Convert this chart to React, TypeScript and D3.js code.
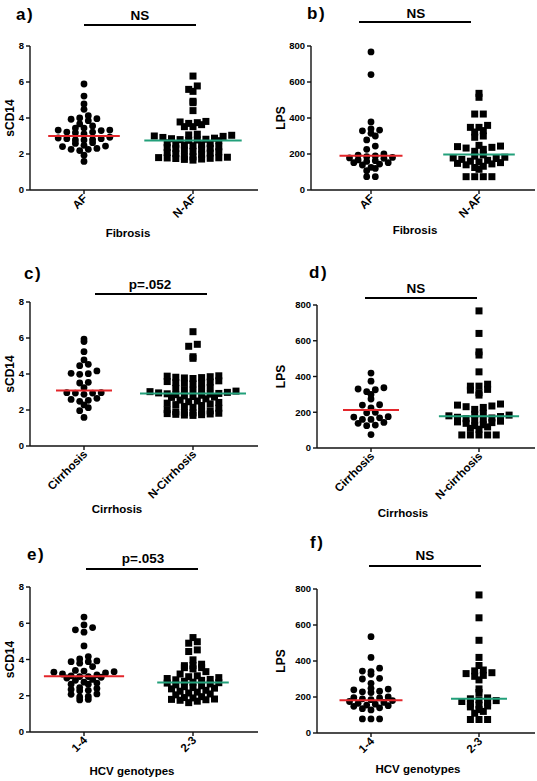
import React from 'react';
import * as d3 from 'd3';

// ---------- categories & ticks ----------
const fibrosisCats = ['AF', 'N-AF'];
const cirrhosisCatsC = ['Cirrhosis', 'N-Cirrhosis'];
const cirrhosisCatsD = ['Cirrhosis', 'N-cirrhosis'];
const genotypeCats = ['1-4', '2-3'];
const sCD14Ticks = [0, 2, 4, 6, 8];
const lpsTicks = [0, 200, 400, 600, 800];

// ---------- data ----------
// a) sCD14 by fibrosis
const aAF = [5.89, 5.22, 4.78, 4.48, 4.13, 4.0, 3.96, 3.93, 3.85, 3.67, 3.56, 3.44, 3.44, 3.33, 3.33, 3.3, 3.22, 3.22, 3.18, 3.11, 2.93, 2.89, 2.85, 2.85, 2.8, 2.78, 2.78, 2.63, 2.59, 2.48, 2.44, 2.41, 2.31, 2.26, 2.26, 2.19, 1.93, 1.59];
const aNAF = [6.33, 5.78, 5.59, 5.48, 4.93, 4.85, 4.41, 3.81, 3.78, 3.74, 3.7, 3.63, 3.52, 3.52, 3.1, 3.06, 3.04, 3.0, 2.98, 2.92, 2.88, 2.85, 2.82, 2.8, 2.78, 2.76, 2.74, 2.62, 2.58, 2.55, 2.52, 2.5, 2.46, 2.4, 2.36, 2.32, 2.3, 2.27, 2.22, 2.15, 2.12, 2.08, 2.05, 2.02, 1.98, 1.86, 1.84, 1.82, 1.8, 1.79, 1.78, 1.76, 1.75, 1.72, 1.7, 1.66];
const aMedians = [3.0, 2.75];

// b) LPS by fibrosis
const bAF = [767, 641, 378, 340, 333, 329, 315, 300, 278, 244, 226, 200, 194, 189, 185, 181, 178, 176, 167, 163, 159, 152, 152, 144, 139, 126, 120, 107, 74, 74];
const bNAF = [537, 515, 422, 422, 359, 348, 348, 330, 322, 300, 293, 248, 244, 241, 237, 233, 226, 215, 195, 188, 182, 178, 175, 170, 165, 160, 156, 152, 148, 145, 140, 132, 125, 115, 74, 74, 74, 74];
const bMedians = [190, 197];

// c) sCD14 by cirrhosis
const cC = [5.94, 5.8, 5.24, 4.78, 4.54, 4.46, 4.17, 4.04, 4.02, 3.98, 3.54, 3.5, 3.24, 2.96, 2.96, 2.94, 2.94, 2.87, 2.65, 2.59, 2.54, 2.48, 2.28, 2.13, 1.96, 1.59];
const cNC = [6.35, 5.65, 5.54, 4.96, 4.87, 3.9, 3.88, 3.85, 3.82, 3.8, 3.78, 3.75, 3.62, 3.58, 3.55, 3.52, 3.5, 3.48, 3.45, 3.24, 3.2, 3.16, 3.12, 3.1, 3.05, 3.02, 2.98, 2.95, 2.92, 2.9, 2.88, 2.85, 2.82, 2.78, 2.75, 2.72, 2.7, 2.62, 2.55, 2.5, 2.46, 2.42, 2.38, 2.34, 2.3, 2.25, 2.2, 2.15, 2.1, 2.02, 1.95, 1.9, 1.88, 1.86, 1.84, 1.82, 1.8, 1.78, 1.76, 1.74, 1.72, 1.7];
const cMedians = [3.08, 2.92];

// d) LPS by cirrhosis
const dC = [419, 374, 337, 330, 326, 315, 300, 274, 242, 240, 225, 200, 197, 175, 173, 169, 160, 160, 143, 138, 128, 125, 75];
const dNC = [767, 641, 538, 520, 426, 357, 346, 346, 328, 324, 309, 296, 246, 240, 235, 231, 227, 216, 195, 188, 184, 180, 176, 172, 168, 164, 160, 155, 150, 146, 142, 138, 130, 125, 118, 110, 105, 73, 73, 73, 73, 73];
const dMedians = [213, 178];

// e) sCD14 by HCV genotype
const e14 = [6.34, 5.91, 5.76, 5.64, 5.51, 4.75, 4.16, 4.03, 3.92, 3.88, 3.88, 3.8, 3.61, 3.4, 3.36, 3.33, 3.3, 3.26, 3.2, 3.15, 3.1, 3.06, 3.06, 3.02, 2.98, 2.9, 2.85, 2.75, 2.7, 2.64, 2.64, 2.45, 2.4, 2.35, 2.3, 2.28, 2.1, 2.08, 1.96, 1.93, 1.8, 1.77];
const e23 = [5.21, 4.98, 4.9, 4.53, 4.44, 3.98, 3.74, 3.66, 3.66, 3.55, 3.55, 3.48, 3.33, 3.2, 3.1, 3.05, 3.0, 2.95, 2.9, 2.88, 2.85, 2.8, 2.75, 2.72, 2.7, 2.65, 2.6, 2.55, 2.5, 2.45, 2.42, 2.38, 2.3, 2.25, 2.2, 2.15, 2.1, 2.05, 1.95, 1.9, 1.88, 1.82, 1.8, 1.78, 1.75, 1.7, 1.62];
const eMedians = [3.07, 2.73];

// f) LPS by HCV genotype
const f14 = [535, 420, 360, 344, 341, 326, 304, 300, 276, 248, 244, 240, 232, 229, 225, 200, 197, 195, 190, 185, 180, 175, 170, 165, 160, 155, 152, 148, 140, 135, 128, 78, 78, 78];
const f23 = [767, 640, 515, 420, 375, 350, 345, 335, 330, 320, 315, 295, 245, 225, 195, 190, 185, 180, 175, 170, 162, 155, 150, 145, 130, 120, 110, 75, 75, 75];
const fMedians = [182, 190];

// ---------- layout ----------
const FONT = '"Liberation Sans", Arial, Helvetica, sans-serif';
const RED = '#e3262b';
const GREEN = '#22a07a';

type Panel = {
  letter: string; lx: number; ly: number;
  sig: string; sigX: number; sigY: number; barX0: number; barX1: number; barY: number;
  axisX: number; yTop: number; yZero: number; xEnd: number; cx0: number; cx1: number;
  ymax: number; ticks: number[]; ytitle: string; ytitleX: number;
  cats: string[]; xtitle: string; xtitleX: number; xtitleY: number;
  g1: number[]; g2: number[]; med: number[];
};

const panels: Panel[] = [
  { letter: 'a)', lx: 16, ly: 20, sig: 'NS', sigX: 140, sigY: 20, barX0: 84, barX1: 196, barY: 25,
    axisX: 30, yTop: 46, yZero: 190, xEnd: 258, cx0: 84, cx1: 193, ymax: 8, ticks: sCD14Ticks, ytitle: 'sCD14', ytitleX: 14,
    cats: fibrosisCats, xtitle: 'Fibrosis', xtitleX: 128, xtitleY: 237, g1: aAF, g2: aNAF, med: aMedians },
  { letter: 'b)', lx: 307, ly: 19, sig: 'NS', sigX: 416, sigY: 18, barX0: 359, barX1: 471, barY: 22,
    axisX: 311, yTop: 46, yZero: 190, xEnd: 535, cx0: 371, cx1: 479, ymax: 800, ticks: lpsTicks, ytitle: 'LPS', ytitleX: 285,
    cats: fibrosisCats, xtitle: 'Fibrosis', xtitleX: 415, xtitleY: 234, g1: bAF, g2: bNAF, med: bMedians },
  { letter: 'c)', lx: 24, ly: 279, sig: 'p=.052', sigX: 150, sigY: 289, barX0: 95, barX1: 207, barY: 294,
    axisX: 30, yTop: 302, yZero: 446, xEnd: 258, cx0: 84, cx1: 193, ymax: 8, ticks: sCD14Ticks, ytitle: 'sCD14', ytitleX: 14,
    cats: cirrhosisCatsC, xtitle: 'Cirrhosis', xtitleX: 117, xtitleY: 513, g1: cC, g2: cNC, med: cMedians },
  { letter: 'd)', lx: 309, ly: 278, sig: 'NS', sigX: 416, sigY: 293, barX0: 365, barX1: 477, barY: 298,
    axisX: 317, yTop: 305, yZero: 448, xEnd: 535, cx0: 371, cx1: 479, ymax: 800, ticks: lpsTicks, ytitle: 'LPS', ytitleX: 285,
    cats: cirrhosisCatsD, xtitle: 'Cirrhosis', xtitleX: 403, xtitleY: 517, g1: dC, g2: dNC, med: dMedians },
  { letter: 'e)', lx: 27, ly: 560, sig: 'p=.053', sigX: 143, sigY: 563, barX0: 86, barX1: 198, barY: 569,
    axisX: 30, yTop: 587, yZero: 732, xEnd: 258, cx0: 84, cx1: 193, ymax: 8, ticks: sCD14Ticks, ytitle: 'sCD14', ytitleX: 14,
    cats: genotypeCats, xtitle: 'HCV genotypes', xtitleX: 132, xtitleY: 775, g1: e14, g2: e23, med: eMedians },
  { letter: 'f)', lx: 310, ly: 548, sig: 'NS', sigX: 425, sigY: 560, barX0: 369, barX1: 481, barY: 566,
    axisX: 317, yTop: 589, yZero: 733, xEnd: 535, cx0: 371, cx1: 479, ymax: 800, ticks: lpsTicks, ytitle: 'LPS', ytitleX: 285,
    cats: genotypeCats, xtitle: 'HCV genotypes', xtitleX: 418, xtitleY: 773, g1: f14, g2: f23, med: fMedians },
];

// GraphPad-like scatter: values binned into rows of height h (px); points in a row are
// laid side by side, centred on the category, spaced sx apart.
function rowSwarm(values: number[], y: (v: number) => number, yZero: number, h: number, sx: number): number[] {
  const bins = d3.group(values.map((v, i) => i), i => Math.floor((yZero - y(values[i])) / h));
  const out = new Array(values.length).fill(0);
  bins.forEach(idx => {
    const sorted = [...idx].sort((a, b) => values[a] - values[b]);
    const n = sorted.length;
    const slots = d3.range(n).map(k => (k - (n - 1) / 2) * sx);
    const orderSlots = [...slots].sort((a, b) => Math.abs(a) - Math.abs(b) || a - b);
    sorted.forEach((i, k) => { out[i] = orderSlots[k]; });
  });
  return out;
}

function PanelView({ p }: { p: Panel }) {
  const y = d3.scaleLinear().domain([0, p.ymax]).range([p.yZero, p.yTop]);
  const x = d3.scalePoint<string>().domain(p.cats).range([p.cx0, p.cx1]);
  const groups = [p.g1, p.g2];
  return (
    <g>
      <text x={p.lx} y={p.ly} fontSize={17} fontWeight="bold" letterSpacing={1.5} fontFamily={FONT}>{p.letter}</text>
      <text x={p.sigX} y={p.sigY} fontSize={13.5} fontWeight="bold" textAnchor="middle" fontFamily={FONT}>{p.sig}</text>
      <line x1={p.barX0} x2={p.barX1} y1={p.barY} y2={p.barY} stroke="#000" strokeWidth={2} />
      {/* y axis */}
      <line x1={p.axisX} x2={p.axisX} y1={p.yTop} y2={p.yZero} stroke="#111" strokeWidth={1.4} />
      {p.ticks.map(t => (
        <g key={t}>
          <line x1={p.axisX - 4} x2={p.axisX} y1={y(t)} y2={y(t)} stroke="#111" strokeWidth={1.4} />
          <text x={p.axisX - 6} y={y(t)} dy="0.35em" fontSize={9.5} fontWeight="bold" textAnchor="end" fontFamily={FONT}>{t}</text>
        </g>
      ))}
      <text transform={`translate(${p.ytitleX},${(p.yTop + p.yZero) / 2}) rotate(-90)`} fontSize={12} fontWeight="bold" textAnchor="middle" fontFamily={FONT}>{p.ytitle}</text>
      {/* x axis */}
      <line x1={p.axisX} x2={p.xEnd} y1={p.yZero} y2={p.yZero} stroke="#111" strokeWidth={1.4} />
      {p.cats.map(c => (
        <g key={c}>
          <line x1={x(c)} x2={x(c)} y1={p.yZero} y2={p.yZero + 4} stroke="#111" strokeWidth={1.4} />
          <text transform={`translate(${(x(c) as number) + 4},${p.yZero + 9}) rotate(-45)`} fontSize={11.5} fontWeight="bold" textAnchor="end" fontFamily={FONT}>{c}</text>
        </g>
      ))}
      <text x={p.xtitleX} y={p.xtitleY} fontSize={11.5} fontWeight="bold" textAnchor="middle" fontFamily={FONT}>{p.xtitle}</text>
      {/* points */}
      {groups.map((vals, gi) => {
        const cx = x(p.cats[gi]) as number;
        const offs = rowSwarm(vals, y, p.yZero, 5.5, 8.6);
        const half = Math.max(28, (d3.max(offs, o => Math.abs(o)) as number) + 10);
        return (
          <g key={gi}>
            {vals.map((v, i) => gi === 0
              ? <circle key={i} cx={cx + offs[i]} cy={y(v)} r={3.4} fill="#000" />
              : <rect key={i} x={cx + offs[i] - 3.5} y={y(v) - 3.5} width={7} height={7} fill="#000" />)}
            <line x1={cx - half} x2={cx + half} y1={y(p.med[gi])} y2={y(p.med[gi])} stroke={gi === 0 ? RED : GREEN} strokeWidth={2} />
          </g>
        );
      })}
    </g>
  );
}

export default function App() {
  return (
    <svg width={537} height={781} style={{ position: 'absolute', left: 0, top: 0, background: '#fff' }}>
      <rect x={0} y={0} width={537} height={781} fill="#fff" />
      {panels.map(p => <PanelView key={p.letter} p={p} />)}
    </svg>
  );
}
